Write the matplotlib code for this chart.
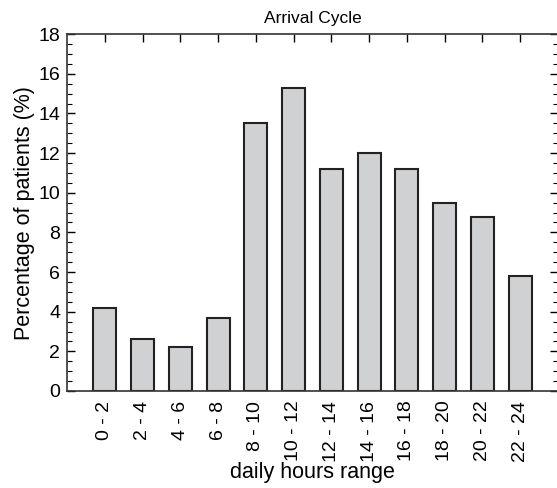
import numpy as np
import matplotlib.pyplot as plt
from matplotlib.ticker import MultipleLocator

plt.rcParams['font.family'] = ['Liberation Sans', 'DejaVu Sans']

hours = ['0 - 2', '2 - 4', '4 - 6', '6 - 8', '8 - 10', '10 - 12',
         '12 - 14', '14 - 16', '16 - 18', '18 - 20', '20 - 22', '22 - 24']
percent = [4.2, 2.6, 2.2, 3.7, 13.5, 15.3, 11.2, 12.0, 11.2, 9.5, 8.8, 5.8]

fig = plt.figure(figsize=(5.57, 4.88), dpi=100)
ax = fig.add_axes([0.1203, 0.1988, 0.8815, 0.7312])

x = np.arange(len(hours))
ax.bar(x, percent, width=0.61, color='#d0d1d3', edgecolor='#222222', linewidth=1.5)

ax.set_xlim(-1, len(hours))
ax.set_ylim(0, 18)
ax.yaxis.set_major_locator(MultipleLocator(2))
ax.yaxis.set_minor_locator(MultipleLocator(0.5))

ax.set_xticks(x)
ax.set_xticklabels(hours, rotation=90, fontsize=14)
ax.tick_params(axis='x', which='both', bottom=False, top=True, direction='in',
               length=6, width=1, pad=7)
ax.tick_params(axis='y', which='major', left=True, right=True, direction='in',
               length=6, width=1, labelsize=14, pad=5)
ax.tick_params(axis='y', which='minor', left=True, right=True, direction='in',
               length=3.5, width=0.8)

for s in ax.spines.values():
    s.set_linewidth(1.2)
    s.set_color('#333333')
ax.spines['right'].set_visible(False)

ax.set_title('Arrival Cycle', fontsize=12.5, pad=8)
ax.set_ylabel('Percentage of patients (%)', fontsize=15.5, labelpad=2)
ax.set_xlabel('daily hours range', fontsize=15.5, labelpad=0)

fig.savefig('out.png', dpi=100)
